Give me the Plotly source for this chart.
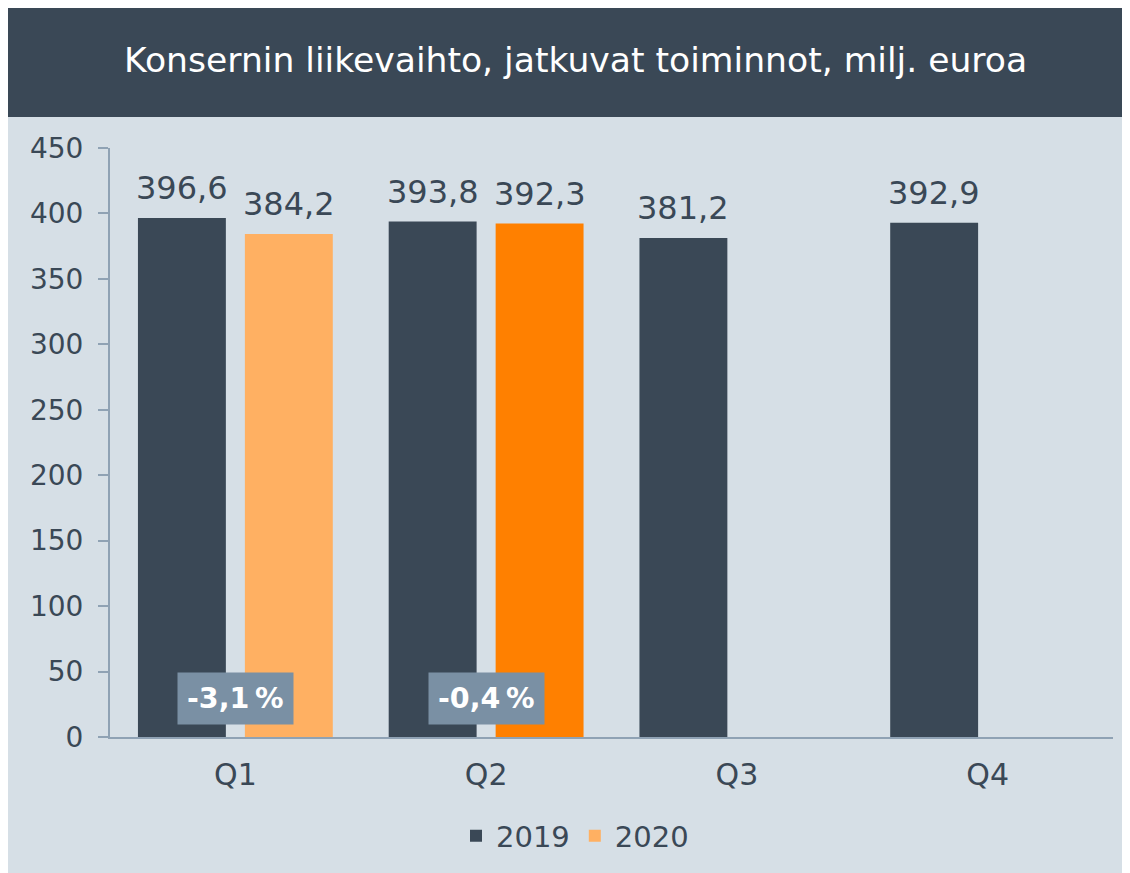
import plotly.graph_objects as go

categories = ["Q1", "Q2", "Q3", "Q4"]
values_2019 = [396.6, 393.8, 381.2, 392.9]
values_2020 = [384.2, 392.3, None, None]
labels_2019 = ["396,6", "393,8", "381,2", "392,9"]
labels_2020 = ["384,2", "392,3", "", ""]
colors_2020 = ["#FFB062", "#FF8000", "#FFB062", "#FFB062"]
changes = ["-3,1\u2009%", "-0,4\u2009%"]
change_cats = ["Q1", "Q2"]
y_ticks = [0, 50, 100, 150, 200, 250, 300, 350, 400, 450]

DARK = "#3A4856"
BG = "#D6DFE6"
AXIS = "#8FA2B4"
FONT = "DejaVu Sans, sans-serif"

# page has an 8px body margin; figure coordinates = reference pixels - 8
OFF = 8
W, H = 1130 - OFF, 873 - OFF
L, R, T, B = 110 - OFF, W - (1113 - OFF), 148 - OFF, H - (737 - OFF)
pw, ph = W - L - R, H - T - B


def px(x):
    return (x - OFF - L) / pw


def py(y):
    return (H - B - (y - OFF)) / ph


BARGAP, GROUPGAP = 0.147, 0.178
slot = pw / len(categories) * (1 - BARGAP) / 2
shift = slot / 2

fig = go.Figure()
fig.add_trace(go.Bar(
    name="2019", x=categories, y=values_2019,
    marker=dict(color=DARK, line=dict(width=0)),
))
fig.add_trace(go.Bar(
    name="2020", x=categories, y=values_2020,
    marker=dict(color=colors_2020, line=dict(width=0)),
))

shapes = [
    dict(type="rect", xref="paper", yref="paper", x0=px(0), x1=px(1130), y0=py(117), y1=py(0),
         fillcolor=DARK, line=dict(width=0), layer="below"),
]

annotations = [
    dict(x=px(575), y=py(60), xref="paper", yref="paper",
         text="Konsernin liikevaihto, jatkuvat toiminnot, milj. euroa",
         showarrow=False, font=dict(family=FONT, size=34.6, color="white"),
         xanchor="center", yanchor="middle"),
]
for c, v, t in zip(categories, values_2019, labels_2019):
    if v is not None and t:
        annotations.append(dict(x=c, y=v, xref="x", yref="y", text=t, showarrow=False,
                                xshift=-shift, yanchor="bottom", yshift=9,
                                font=dict(family=FONT, size=32, color=DARK)))
for c, v, t in zip(categories, values_2020, labels_2020):
    if v is not None and t:
        annotations.append(dict(x=c, y=v, xref="x", yref="y", text=t, showarrow=False,
                                xshift=shift, yanchor="bottom", yshift=9,
                                font=dict(family=FONT, size=32, color=DARK)))
for c, t in zip(change_cats, changes):
    annotations.append(dict(x=c, y=29.4, xref="x", yref="y", text="<b>" + t + "</b>", showarrow=False,
                            bgcolor="#7A90A4", borderpad=9,
                            font=dict(family=FONT, size=28.5, color="white")))

fig.update_layout(
    width=W, height=H,
    margin=dict(l=L, r=R, t=T, b=B, pad=0),
    paper_bgcolor=BG, plot_bgcolor="rgba(0,0,0,0)",
    barmode="group", bargap=BARGAP, bargroupgap=GROUPGAP,
    showlegend=True,
    legend=dict(orientation="h", x=px(575), xanchor="center", y=py(836), yanchor="middle",
                font=dict(family=FONT, size=29, color=DARK), itemwidth=30,
                bgcolor="rgba(0,0,0,0)"),
    shapes=shapes, annotations=annotations,
    xaxis=dict(showline=True, linecolor=AXIS, linewidth=2, ticks="",
               tickfont=dict(family=FONT, size=30, color=DARK),
               ticklabelstandoff=10, showgrid=False),
    yaxis=dict(range=[0, 450], tickvals=y_ticks, showgrid=False, zeroline=False,
               showline=True, linecolor=AXIS, linewidth=2, ticks="outside", ticklen=10,
               tickcolor=AXIS, tickwidth=2,
               tickfont=dict(family=FONT, size=28, color=DARK), ticklabelstandoff=9),
)

fig.write_html("out.html")
